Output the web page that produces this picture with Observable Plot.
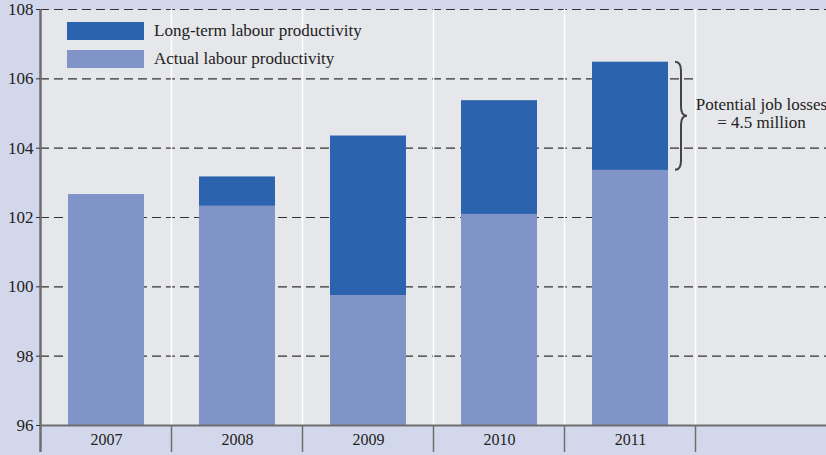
<!DOCTYPE html>
<html><head><meta charset="utf-8">
<script src="https://cdn.jsdelivr.net/npm/d3@7"></script>
<script src="https://cdn.jsdelivr.net/npm/@observablehq/plot@0.6"></script>
<style>
html,body{margin:0;padding:0;background:#d3d7eb;}
#wrap{position:relative;width:826px;height:455px;font-family:"Liberation Serif",serif;overflow:hidden;}
.legend{position:absolute;left:67px;top:22px;}
.item{display:flex;align-items:center;height:18px;margin-bottom:10px;font-size:17px;color:#222;white-space:nowrap;}
.sw{width:77px;height:18px;margin-right:10px;flex:none;}
</style></head><body><div id="wrap"></div>
<script>
const years = ["2007", "2008", "2009", "2010", "2011"];
const actual = [102.65, 102.33, 99.75, 102.09, 103.36];
const longTerm = [102.65, 103.17, 104.35, 105.37, 106.48];
const yTicks = [96, 98, 100, 102, 104, 106, 108];
const legendLabels = ["Long-term labour productivity", "Actual labour productivity"];
const annotation = "Potential job losses\n= 4.5 million";
const blank = " ";
const colors = {long: "#2c63ae", actual: "#8194c8"};

const rows = years.map((year, i) => ({year, actual: actual[i], long: longTerm[i]}));
const domain = [...years, blank];
const last = rows[rows.length - 1];

function bandInfo(x, dims) {
  const step = x.step ? x.step() : (dims.width - dims.marginLeft - dims.marginRight) / domain.length;
  const bw = x.bandwidth ? x.bandwidth() : step * 0.58;
  return {step, bw};
}

const separators = Plot.ruleX(domain, {
  x: d => d,
  render: (I, scales, values, dims) => {
    const x = scales.x;
    const {step, bw} = bandInfo(x, dims);
    const top = dims.marginTop, bottom = dims.height - dims.marginBottom;
    const g = d3.create("svg:g");
    domain.forEach((d, i) => {
      const sx = x(d) - (step - bw) / 2;
      if (i > 0) g.append("line").attr("x1", sx).attr("x2", sx).attr("y1", top).attr("y2", bottom)
        .attr("stroke", "#fff").attr("stroke-width", 1.5);
      g.append("line").attr("x1", sx).attr("x2", sx).attr("y1", i === 0 ? top : bottom).attr("y2", bottom + 27)
        .attr("stroke", "#6e6e6e").attr("stroke-width", i === 0 ? 2.5 : 1.5);
    });
    return g.node();
  }
});

const textBox = Plot.ruleX([last], {
  x: "year",
  render: (I, scales, values, dims) => {
    const x = scales.x, y = scales.y;
    const {step, bw} = bandInfo(x, dims);
    const sx = x(blank) - (step - bw) / 2 + 1;
    const mid = (last.long + last.actual) / 2;
    const g = d3.create("svg:g");
    g.append("rect").attr("x", sx).attr("width", dims.width - sx)
      .attr("y", y(last.long)).attr("height", y(mid) - y(last.long) + 16).attr("fill", "#e6e7ea");
    return g.node();
  }
});

const brace = Plot.ruleX([last], {
  x: "year",
  render: (I, scales, values, dims) => {
    const x = scales.x, y = scales.y;
    const {bw} = bandInfo(x, dims);
    const x0 = x(last.year) + bw + 7, h = 6, q = 9;
    const y0 = y(last.long), y1 = y(last.actual), ym = (y0 + y1) / 2;
    const p = `M${x0},${y0} Q${x0 + h},${y0} ${x0 + h},${y0 + q} L${x0 + h},${ym - q} Q${x0 + h},${ym} ${x0 + 2 * h},${ym} Q${x0 + h},${ym} ${x0 + h},${ym + q} L${x0 + h},${y1 - q} Q${x0 + h},${y1} ${x0},${y1}`;
    const g = d3.create("svg:g");
    g.append("path").attr("d", p).attr("fill", "none").attr("stroke", "#444").attr("stroke-width", 2);
    return g.node();
  }
});

const chart = Plot.plot({
  width: 826, height: 455,
  marginLeft: 40, marginRight: 0, marginTop: 9, marginBottom: 30,
  style: {background: "transparent", fontFamily: "'Liberation Serif', serif", fontSize: "17px", color: "#222", overflow: "visible"},
  x: {domain, paddingInner: 0.42, paddingOuter: 0.21, label: null},
  y: {domain: [96, 108], ticks: yTicks, label: null},
  marks: [
    Plot.frame({fill: "#e6e7ea", stroke: "none"}),
    Plot.ruleY(yTicks.filter(t => t > 96), {y: d => d, stroke: "#333", strokeWidth: 1.2, strokeDasharray: "9,5"}),
    textBox,
    separators,
    Plot.barY(rows, {x: "year", y1: 96, y2: "long", fill: colors.long}),
    Plot.barY(rows, {x: "year", y1: 96, y2: "actual", fill: colors.actual}),
    Plot.ruleY([96], {stroke: "#6e6e6e", strokeWidth: 2}),
    Plot.axisY(yTicks, {tickSize: 4, tickPadding: 3, fontSize: 17, stroke: "#333", fill: "#222"}),
    Plot.axisX({tickSize: 0, tickPadding: 8, fontSize: 16, fill: "#222", tickFormat: d => d.trim()}),
    brace,
    Plot.text([last], {x: () => blank, y: d => (d.long + d.actual) / 2, text: () => annotation,
      fontSize: 17, lineHeight: 1.05, dy: -3, fill: "#222"})
  ]
});

const wrap = document.getElementById("wrap");
wrap.appendChild(chart);
const legend = document.createElement("div");
legend.className = "legend";
[[legendLabels[0], colors.long], [legendLabels[1], colors.actual]].forEach(([label, c]) => {
  const it = document.createElement("div");
  it.className = "item";
  const sw = document.createElement("span");
  sw.className = "sw"; sw.style.background = c;
  const t = document.createElement("span");
  t.textContent = label;
  it.appendChild(sw); it.appendChild(t);
  legend.appendChild(it);
});
wrap.appendChild(legend);
</script></body></html>
